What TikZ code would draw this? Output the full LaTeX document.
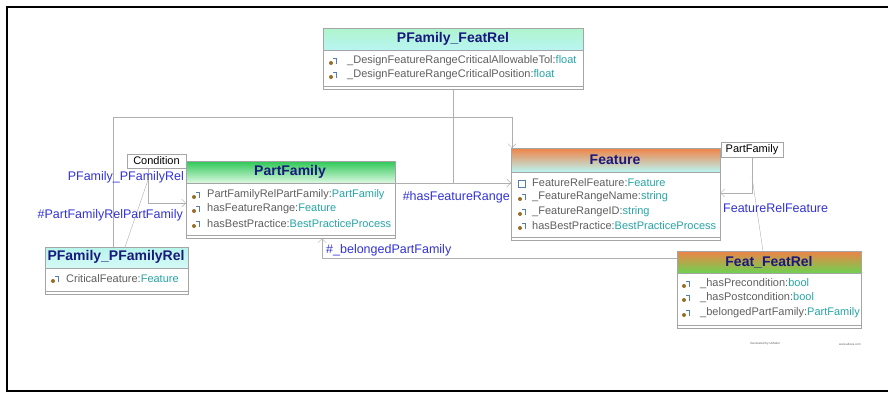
\documentclass[tikz,border=0pt]{standalone}
\usepackage{fontspec}
\setmainfont{Liberation Sans}
\usetikzlibrary{arrows.meta}
\definecolor{BoxGray}{RGB}{165, 165, 165}
\definecolor{LineGray}{RGB}{175, 175, 175}
\definecolor{TitleNavy}{RGB}{25, 25, 125}
\definecolor{RoleBlue}{RGB}{50, 50, 215}
\definecolor{TypeTeal}{RGB}{40, 165, 165}
\definecolor{AttrGray}{RGB}{95, 95, 95}
\definecolor{MintGreen}{RGB}{175, 245, 205}
\definecolor{PaleCyan}{RGB}{185, 245, 242}
\definecolor{LeafGreen}{RGB}{45, 200, 85}
\definecolor{PaleGreen}{RGB}{220, 248, 226}
\definecolor{Tangerine}{RGB}{240, 130, 70}
\definecolor{GrassGreen}{RGB}{110, 210, 80}
\definecolor{IconBrown}{RGB}{150, 110, 40}
\definecolor{IconBlue}{RGB}{85, 125, 175}

\tikzset{
  classbox/.style={fill=white, inner sep=0pt, anchor=north west},
  title/.style={font=\bfseries\fontsize{14}{16}\selectfont, text=TitleNavy},
  attr/.style={font=\fontsize{11}{13}\selectfont, text=AttrGray, anchor=west, inner sep=0pt},
  role/.style={font=\fontsize{12.5}{14}\selectfont, text=RoleBlue, inner sep=0pt},
  assoc/.style={draw=LineGray, thin},
  tip/.style={-{Straight Barb[length=4pt,width=8pt]}},
  tagbox/.style={draw=BoxGray, fill=white, font=\fontsize{11}{13}\selectfont, inner sep=0pt}
}

\begin{document}
\begin{tikzpicture}[x=1pt, y=-1pt]
    \useasboundingbox (0,0) rectangle (888,392);
    \draw[line width=2pt] (7,392) -- (7,7) -- (888,7);
    \draw[line width=2pt] (7,391) -- (888,391);

    % class boxes
    \node[classbox, minimum width=260pt, minimum height=61pt] (featrel) at (323,28) {};
    \node[classbox, minimum width=209pt, minimum height=77pt] (partfam) at (186,161) {};
    \node[classbox, minimum width=209pt, minimum height=92pt] (feature) at (511,148) {};
    \node[classbox, minimum width=143pt, minimum height=47pt] (pfrel) at (45,247) {};
    \node[classbox, minimum width=184pt, minimum height=77pt] (featfeat) at (677,251) {};

    % headers
    \shade[top color=MintGreen, bottom color=PaleCyan] (323,28) rectangle (583,50);
    \shade[top color=LeafGreen, bottom color=PaleGreen] (186,161) rectangle (395,183);
    \shade[top color=Tangerine, bottom color=PaleCyan] (511,148) rectangle (720,172);
    \shade[top color=PaleCyan!80!MintGreen, bottom color=PaleCyan!60!white] (45,247) rectangle (188,268);
    \shade[top color=Tangerine, bottom color=GrassGreen] (677,251) rectangle (861,273);

    \node[title] (featreltitle) at (453,39) {PFamily\_FeatRel};
    \node[title] (partfamtitle) at (290,172) {PartFamily};
    \node[title] (featuretitle) at (615,160) {Feature};
    \node[title] (pfreltitle) at (116,257) {PFamily\_PFamilyRel};
    \node[title] (featfeattitle) at (769,262) {Feat\_FeatRel};

    % compartments
    \draw[BoxGray] (323,50) -- (583,50) (323,86) -- (583,86);
    \draw[BoxGray] (186,183) -- (395,183) (186,235) -- (395,235);
    \draw[BoxGray] (511,172) -- (720,172) (511,237) -- (720,237);
    \draw[BoxGray] (45,268) -- (188,268) (45,291) -- (188,291);
    \draw[BoxGray] (677,273) -- (861,273) (677,325) -- (861,325);
    \foreach \b in {featrel,partfam,feature,pfrel,featfeat}
        \draw[BoxGray] (\b.north west) rectangle (\b.south east);

    % attribute icons
    \foreach \ix/\y in {331/61, 331/75, 194/195, 194/209, 194/224, 520/197, 520/212, 520/226, 53/279, 684/284, 684/298, 684/313} {
        \fill[IconBrown] (\ix,\y+2) circle (2);
        \draw[IconBlue, line width=0.8pt] (\ix+2,\y-3) -- (\ix+5,\y-3) -- (\ix+5,\y+3);
    }
    \draw[IconBlue, line width=0.8pt] (518,180) rectangle (525,187);

    % attributes
    \node[attr] (fr1) at (347,61) {\_DesignFeatureRangeCriticalAllowableTol:\textcolor{TypeTeal}{float}};
    \node[attr] (fr2) at (347,75) {\_DesignFeatureRangeCriticalPosition:\textcolor{TypeTeal}{float}};
    \node[attr] (pf1) at (207,195) {PartFamilyRelPartFamily:\textcolor{TypeTeal}{PartFamily}};
    \node[attr] (pf2) at (207,209) {hasFeatureRange:\textcolor{TypeTeal}{Feature}};
    \node[attr] (pf3) at (207,224) {hasBestPractice:\textcolor{TypeTeal}{BestPracticeProcess}};
    \node[attr] (ft1) at (532,183) {FeatureRelFeature:\textcolor{TypeTeal}{Feature}};
    \node[attr] (ft2) at (532,197) {\_FeatureRangeName:\textcolor{TypeTeal}{string}};
    \node[attr] (ft3) at (532,212) {\_FeatureRangeID:\textcolor{TypeTeal}{string}};
    \node[attr] (ft4) at (532,226) {hasBestPractice:\textcolor{TypeTeal}{BestPracticeProcess}};
    \node[attr] (pr1) at (66,279) {CriticalFeature:\textcolor{TypeTeal}{Feature}};
    \node[attr] (ff1) at (700,284) {\_hasPrecondition:\textcolor{TypeTeal}{bool}};
    \node[attr] (ff2) at (700,298) {\_hasPostcondition:\textcolor{TypeTeal}{bool}};
    \node[attr] (ff3) at (700,313) {\_belongedPartFamily:\textcolor{TypeTeal}{PartFamily}};

    % tags
    \node[tagbox, minimum width=59pt, minimum height=14pt] (cond) at (156.5,161) {Condition};
    \node[tagbox, minimum width=62pt, minimum height=15pt] (pftag) at (752,149.5) {PartFamily};

    % connectors
    \coordinate (loopL) at (113,117);
    \coordinate (loopR) at (512,117);
    \draw[assoc, tip] (pfrel.north -| loopL) -- (loopL) -- (loopR) -- (feature.north -| loopR);

    \coordinate (hfr) at (453,183);
    \draw[assoc] (featrel.south) -- (featrel.south |- hfr);
    \draw[assoc, tip] (partfam.east |- hfr) -- (feature.west |- hfr);

    \coordinate (condbend) at (148,203);
    \coordinate (condjoin) at (148,180);
    \draw[assoc, tip] (cond.south -| condbend) -- (condbend) -- (partfam.west |- condbend);
    \draw[assoc] (pfrel.north -| 125,0) -- (condjoin);

    \coordinate (belbend) at (322,258);
    \draw[assoc, tip] (featfeat.west |- belbend) -- (belbend) -- (partfam.south -| belbend);

    \coordinate (selfbend) at (752,193);
    \coordinate (selfjoin) at (752,177);
    \draw[assoc, tip] (pftag.south) -- (selfbend) -- (feature.east |- selfbend);
    \draw[assoc] (featfeat.north -| 763,0) -- (selfjoin);

    % role names
    \node[role, anchor=east] (rolepfrel) at (184,177) {PFamily\_PFamilyRel};
    \node[role, anchor=east] (rolepfrpf) at (183,215) {\#PartFamilyRelPartFamily};
    \node[role, anchor=east] (rolehfr) at (510,197) {\#hasFeatureRange};
    \node[role, anchor=west] (rolebel) at (326,250) {\#\_belongedPartFamily};
    \node[role, anchor=west] (rolefrf) at (723,208) {FeatureRelFeature};

    % footer
    \node[font=\fontsize{3}{4}\selectfont, text=AttrGray] (gen) at (765,344) {Generated by UModel};
    \node[font=\fontsize{3}{4}\selectfont, text=AttrGray] (www) at (850,344) {www.altova.com};
\end{tikzpicture}
\end{document}
